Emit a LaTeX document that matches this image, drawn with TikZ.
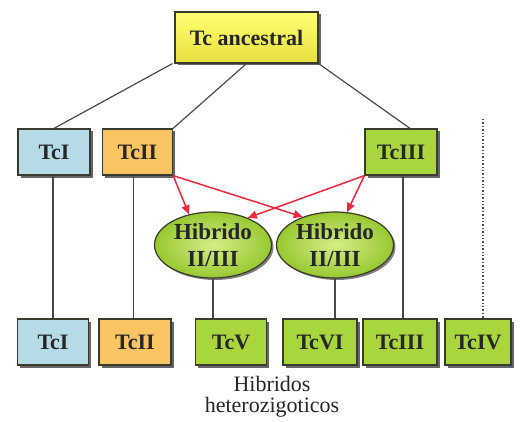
\documentclass[tikz,border=0pt]{standalone}
\usepackage{fontspec}
\setmainfont{Liberation Serif}
\usetikzlibrary{shadows,arrows.meta,calc,shapes.geometric}
\definecolor{bordercol}{HTML}{3A3A2E}
\definecolor{linecol}{HTML}{4A4A4A}
\definecolor{blueC}{HTML}{B5DCE6}
\definecolor{orangeC}{HTML}{FBC463}
\definecolor{greenC}{HTML}{A8D63C}
\definecolor{yellowA}{HTML}{FFFF70}
\definecolor{yellowB}{HTML}{E8E040}
\definecolor{ellIn}{HTML}{D4EE88}
\definecolor{ellOut}{HTML}{98C830}
\definecolor{arrowC}{HTML}{F0283C}
\begin{document}
\begin{tikzpicture}[x=1pt,y=-1pt,
  box/.style={draw=bordercol, line width=1.2pt, minimum height=46pt, inner sep=0pt,
    font=\fontsize{22}{24}\selectfont\bfseries, text=black!85,
    drop shadow={shadow xshift=2.5pt, shadow yshift=-2.5pt, fill=black, opacity=.6}},
  hyb/.style={ellipse, draw=bordercol, line width=1.2pt, minimum width=117pt, minimum height=66pt,
    inner sep=0pt, inner color=ellIn, outer color=ellOut, align=center,
    font=\fontsize{23}{27}\selectfont\bfseries, text=black!85,
    drop shadow={shadow xshift=2pt, shadow yshift=-2pt, fill=black, opacity=.5}},
  conn/.style={draw=linecol, line width=1.2pt},
  redarrow/.style={draw=arrowC, line width=1.5pt, -{Triangle[length=9pt,width=8pt]}}
]
\useasboundingbox (0,0) rectangle (524,422);
\fill[white] (0,0) rectangle (524,422);

% top
\node[box, top color=yellowA, bottom color=yellowB, minimum width=143pt, minimum height=51pt] (anc) at (246.5,37.5) {Tc ancestral};

% upper row
\node[box, fill=blueC, minimum width=72pt] (I1) at (54,152) {TcI};
\node[box, fill=orangeC, minimum width=70pt] (II1) at (137.5,152) {TcII};
\node[box, fill=greenC, minimum width=72pt] (III1) at (401,152) {TcIII};

% hybrids
\node[hyb] (h1) at (213,245) {Hibrido\\II/III};
\node[hyb] (h2) at (335,245) {Hibrido\\II/III};

% bottom row
\node[box, fill=blueC, minimum width=71pt] (I2) at (53,342) {TcI};
\node[box, fill=orangeC, minimum width=72pt] (II2) at (135,342) {TcII};
\node[box, fill=greenC, minimum width=71pt] (V) at (231,342) {TcV};
\node[box, fill=greenC, minimum width=74pt] (VI) at (320,342) {TcVI};
\node[box, fill=greenC, minimum width=74pt] (III2) at (400,342) {TcIII};
\node[box, fill=greenC, minimum width=66pt] (IV) at (478,342) {TcIV};

% label
\node[align=center, font=\fontsize{22}{21}\selectfont, text=black!85] (lab) at (272,397) {Hibridos\\heterozigoticos};

% connectors from ancestral
\draw[conn] ([xshift=-2pt]anc.south west) -- (I1.north);
\draw[conn] (anc.south) -- (II1.north east);
\draw[conn] (anc.south east) -- ([xshift=9pt]III1.north);

% vertical lines
\draw[conn] ([xshift=-1pt]I1.south) -- ([xshift=-1pt]I1.south |- I2.north);
\draw[conn] ([xshift=-4pt]II1.south) -- ([xshift=-4pt]II1.south |- II2.north);
\draw[conn] (h1.south) -- (h1.south |- V.north);
\draw[conn] (h2.south) -- (h2.south |- VI.north);
\draw[conn] ([xshift=2pt]III1.south) -- ([xshift=2pt]III1.south |- III2.north);
\coordinate (dtop) at (483,119);
\draw[draw=linecol, line width=1.4pt, dotted] (dtop) -- (dtop |- IV.north);

% red arrows
\draw[redarrow] (II1.south east) -- (h1.128);
\draw[redarrow] (II1.south east) -- (h2.139);
\draw[redarrow] (III1.south west) -- (h1.38);
\draw[redarrow] (III1.south west) -- (h2.70);
\end{tikzpicture}
\end{document}
